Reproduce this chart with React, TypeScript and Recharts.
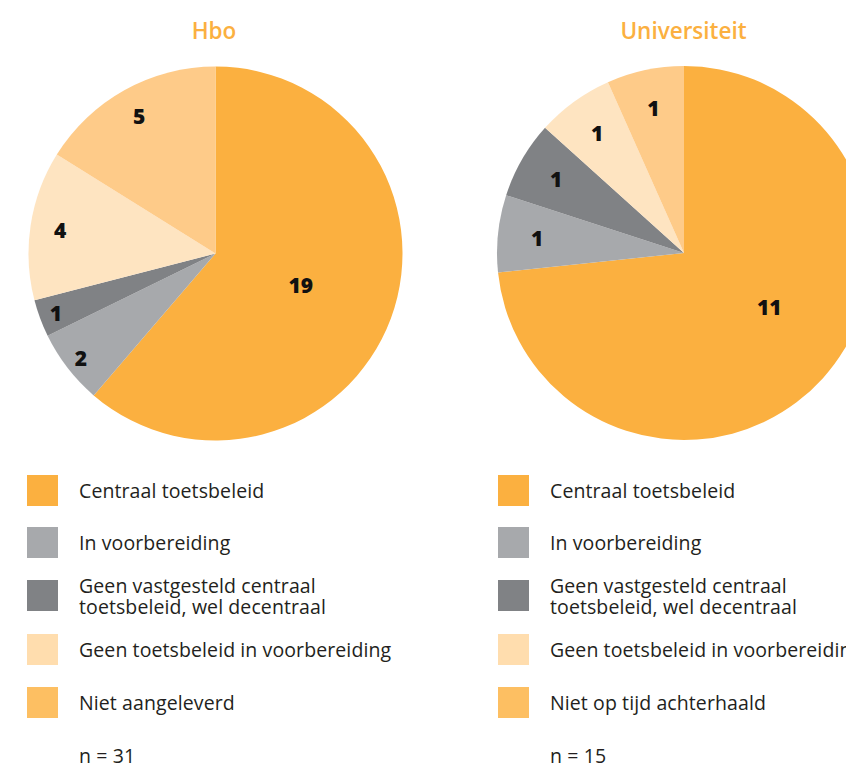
import React from "react";
import { PieChart, Pie, Cell } from "recharts";

const hboCategories = [
  "Centraal toetsbeleid",
  "In voorbereiding",
  "Geen vastgesteld centraal\ntoetsbeleid, wel decentraal",
  "Geen toetsbeleid in voorbereiding",
  "Niet aangeleverd",
];
const uniCategories = [
  "Centraal toetsbeleid",
  "In voorbereiding",
  "Geen vastgesteld centraal\ntoetsbeleid, wel decentraal",
  "Geen toetsbeleid in voorbereiding",
  "Niet op tijd achterhaald",
];
const hboValues = [19, 2, 1, 4, 5];
const uniValues = [11, 1, 1, 1, 1];
const sliceColors = ["#FBB040", "#A7A9AC", "#808285", "#FEE4C1", "#FECB89"];
const legendColors = ["#FBB040", "#A7A9AC", "#808285", "#FFDDAE", "#FDBF62"];
const titles = ["Hbo", "Universiteit"];
const nLabels = ["n = 31", "n = 15"];

const hboData = hboCategories.map((name, i) => ({ name, value: hboValues[i] }));
const uniData = uniCategories.map((name, i) => ({ name, value: uniValues[i] }));

const RAD = Math.PI / 180;
const makeLabel = (smallFactor: number, tinyFactor: number) => (props: any) => {
  const { cx, cy, midAngle, outerRadius, percent, value } = props;
  let r: number;
  let ang = midAngle;
  if (percent > 0.5) {
    r = outerRadius * (0.21 + 0.45 * percent);
    ang = midAngle + (percent - 0.6) * 80 - 1;
  } else if (percent < 0.1) {
    r = outerRadius * tinyFactor;
  } else {
    r = outerRadius * smallFactor;
  }
  const x = cx + r * Math.cos(-ang * RAD);
  const y = cy + r * Math.sin(-ang * RAD);
  return (
    <text
      x={x}
      y={y}
      fill="#111"
      textAnchor="middle"
      dominantBaseline="central"
      fontFamily="'Open Sans', sans-serif"
      fontWeight={800}
      fontSize={21}
    >
      {value}
    </text>
  );
};

const hboLabel = makeLabel(0.84, 0.91);
const uniLabel = makeLabel(0.79, 0.79);

const Legend = ({ cats, left, n }: { cats: string[]; left: number; n: string }) => {
  const rowTops = [475, 527, 580, 634, 687];
  const textStyle: React.CSSProperties = {
    fontFamily: "'Open Sans', sans-serif",
    fontSize: 19.5,
    letterSpacing: 0.1,
    lineHeight: "21px",
    color: "#231F20",
    whiteSpace: "pre",
  };
  return (
    <>
      {cats.map((c, i) => (
        <div
          key={i}
          style={{
            position: "absolute",
            left,
            top: rowTops[i],
            height: 31,
            display: "flex",
            alignItems: "center",
            whiteSpace: "nowrap",
          }}
        >
          <div style={{ width: 31, height: 31, background: legendColors[i], flex: "none" }} />
          <div style={{ marginLeft: 21, ...textStyle }}>{c}</div>
        </div>
      ))}
      <div style={{ position: "absolute", left: left + 52, top: 747, ...textStyle, lineHeight: "17px" }}>{n}</div>
    </>
  );
};

export default function App() {
  if (typeof document !== "undefined") {
    document.documentElement.style.overflow = "hidden";
    document.body.style.margin = "0";
  }
  return (
    <div style={{ position: "relative", width: 846, height: 765, overflow: "hidden", background: "#fff" }}>
      {titles.map((t, i) => (
        <div
          key={t}
          style={{
            position: "absolute",
            left: i === 0 ? 214 : 683.5,
            top: 15,
            transform: "translateX(-50%)",
            fontFamily: "'Open Sans', sans-serif",
            fontWeight: 600,
            fontSize: 22.5,
            color: "#FBB040",
            whiteSpace: "nowrap",
          }}
        >
          {t}
        </div>
      ))}
      <div style={{ position: "absolute", left: 0, top: 0 }}>
        <PieChart width={900} height={460} margin={{ top: 0, right: 0, bottom: 0, left: 0 }}>
          <Pie
            data={hboData}
            dataKey="value"
            cx={215.5}
            cy={253.5}
            outerRadius={187}
            startAngle={90}
            endAngle={-270}
            stroke="none"
            label={hboLabel}
            labelLine={false}
            isAnimationActive={false}
          >
            {hboData.map((d, i) => (
              <Cell key={i} fill={sliceColors[i]} />
            ))}
          </Pie>
          <Pie
            data={uniData}
            dataKey="value"
            cx={684}
            cy={253}
            outerRadius={187}
            startAngle={90}
            endAngle={-270}
            stroke="none"
            label={uniLabel}
            labelLine={false}
            isAnimationActive={false}
          >
            {uniData.map((d, i) => (
              <Cell key={i} fill={sliceColors[i]} />
            ))}
          </Pie>
        </PieChart>
      </div>
      <Legend cats={hboCategories} left={27} n={nLabels[0]} />
      <Legend cats={uniCategories} left={498} n={nLabels[1]} />
    </div>
  );
}
